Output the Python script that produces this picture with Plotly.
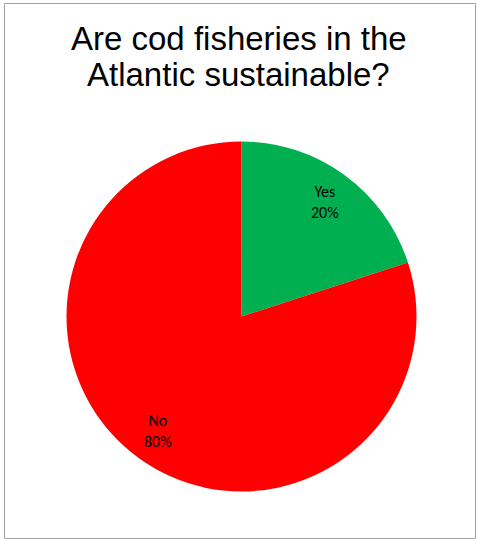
import math
import plotly.graph_objects as go

# Data
categories = ["Yes", "No"]
values = [20, 80]
colors = ["#00B050", "#FF0000"]
title_lines = ["Are cod fisheries in the", "Atlantic sustainable?"]

W, H = 477, 539
cx, cy, R = 241.5, 316.5, 175.0  # pixel layout of pie

fig = go.Figure()
fig.add_trace(go.Pie(
    labels=categories,
    values=values,
    marker=dict(colors=colors, line=dict(width=0)),
    sort=False,
    direction="clockwise",
    rotation=0,
    textinfo="none",
    showlegend=False,
    domain=dict(x=[(cx - R) / W, (cx + R) / W], y=[1 - (cy + R) / H, 1 - (cy - R) / H]),
))

# data labels placed at slice mid-angles
total = sum(values)
start = 0.0
annotations = []
for lab, v in zip(categories, values):
    frac = v / total
    mid = (start + frac / 2) * 2 * math.pi
    start += frac
    px = cx + 0.81 * R * math.sin(mid)
    py = cy - 0.81 * R * math.cos(mid)
    annotations.append(dict(
        x=px / W, y=1 - py / H, xref="paper", yref="paper",
        text=f"{lab}<br>{round(frac * 100)}%", showarrow=False,
        xanchor="center", yanchor="middle",
        font=dict(family="Carlito, Lato, sans-serif", size=16, color="#000000"),
    ))

for i, (line, ymid) in enumerate(zip(title_lines, [38, 75])):
    annotations.append(dict(
        x=0.5, y=1 - ymid / H, xref="paper", yref="paper",
        text=line, showarrow=False, xanchor="center", yanchor="middle",
        font=dict(family="Liberation Sans, Arial, sans-serif", size=33, color="#000000"),
    ))

fig.update_layout(
    width=W, height=H,
    margin=dict(l=0, r=0, t=0, b=0),
    paper_bgcolor="white",
    plot_bgcolor="white",
    annotations=annotations,
    shapes=[dict(type="rect", xref="paper", yref="paper",
                 x0=4.5 / W, x1=475.5 / W, y0=1 - 538.5 / H, y1=1 - 3.5 / H,
                 line=dict(color="#A0A0A0", width=1))],
)

fig.write_html("out.html", config={"displayModeBar": False},
               post_script="document.body.style.margin='0';")
